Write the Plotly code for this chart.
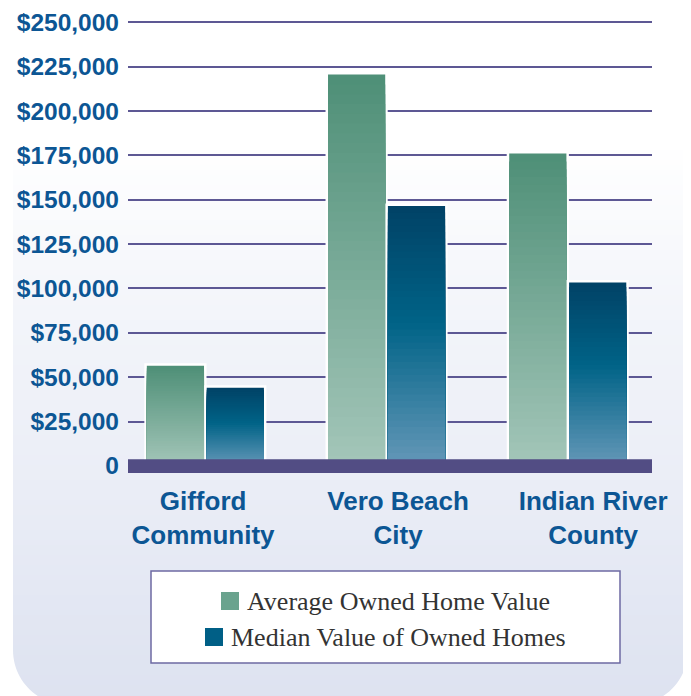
import plotly.graph_objects as go

# data
places = ["Gifford<br>Community", "Vero Beach<br>City", "Indian River<br>County"]
series = ["Average Owned Home Value", "Median Value of Owned Homes"]
avg_value = [56500, 220500, 176000]
median_value = [44000, 146400, 103400]
tick_vals = [0, 25000, 50000, 75000, 100000, 125000, 150000, 175000, 200000, 225000, 250000]
tick_text = ["0", "$25,000", "$50,000", "$75,000", "$100,000", "$125,000",
             "$150,000", "$175,000", "$200,000", "$225,000", "$250,000"]

# the page body adds 8px, so the figure is laid out in page pixels minus 8
OFF = 8
W, H = 691 - OFF, 696 - OFF
PL, PR, PT, PB = 128 - OFF, 652 - OFF, 18 - OFF, 473 - OFF
Y_MIN, Y_TOP = -4000, 252400


def px(x):
    # page pixel -> paper x
    return (x - OFF - PL) / (PR - PL)


def py(y):
    # page pixel -> paper y
    return (PB - (y - OFF)) / (PB - PT)


def mix(stops, f):
    for (p0, c0), (p1, c1) in zip(stops, stops[1:]):
        if p0 <= f <= p1:
            t = (f - p0) / (p1 - p0) if p1 > p0 else 0
            c = [round(a + (b - a) * t) for a, b in zip(c0, c1)]
            return "rgb(%d,%d,%d)" % tuple(c)
    return "rgb(%d,%d,%d)" % stops[-1][1]


avg_stops = [(0, (78, 143, 119)), (1, (164, 198, 185))]
med_stops = [(0, (1, 66, 102)), (0.45, (0, 99, 135)), (1, (101, 152, 184))]

fig = go.Figure()

N = 40
for name, vals, stops in [(series[0], avg_value, avg_stops), (series[1], median_value, med_stops)]:
    # white frame behind each bar
    fig.add_trace(go.Bar(x=places, y=vals, offsetgroup=name, name=name,
                         marker=dict(color="white", line=dict(color="white", width=5)),
                         showlegend=False, hoverinfo="skip"))
    # vertical gradient: tallest slice first, shorter slices drawn over it
    for k in range(N):
        frac = 1 - k / N
        fig.add_trace(go.Bar(x=places, y=[v * frac for v in vals], offsetgroup=name,
                             marker=dict(color=mix(stops, (k + 0.5) / N), line=dict(width=0)),
                             showlegend=False, hoverinfo="skip"))

# category labels sit on their own axis (spaced a little wider than the bars)
idx = list(range(len(places)))
fig.add_trace(go.Scatter(x=idx, y=[0] * len(idx), xaxis="x2", mode="markers",
                         marker=dict(opacity=0), showlegend=False, hoverinfo="skip"))

shapes = []
# background panel gradient
bg_stops = [(0, (255, 255, 255)), (0.3, (243, 245, 250)), (0.62, (234, 237, 246)), (1, (221, 226, 240))]
y_start, y_end = 140, 700
step = 5
y = y_start
while y < y_end:
    f = (y - y_start) / (y_end - y_start)
    shapes.append(dict(type="rect", xref="paper", yref="paper", layer="below",
                       x0=px(13), x1=px(688), y0=py(y + step + 0.5), y1=py(y),
                       fillcolor=mix(bg_stops, f), line=dict(width=0)))
    y += step

# rounded bottom corners (white masks)
R, k = 55, 0.5523
bot = 705


def P(x, y):
    return "%f,%f" % (px(x), py(y))


left = ("M " + P(13, bot - R) + " C " + P(13, bot - R + R * k) + " " + P(13 + R - R * k, bot) + " "
        + P(13 + R, bot) + " L " + P(13 + R, 720) + " L " + P(0, 720) + " L " + P(0, bot - R) + " Z")
right = ("M " + P(688, bot - R) + " C " + P(688, bot - R + R * k) + " " + P(688 - R + R * k, bot) + " "
         + P(688 - R, bot) + " L " + P(688 - R, 720) + " L " + P(700, 720) + " L " + P(700, bot - R) + " Z")
for pth in (left, right):
    shapes.append(dict(type="path", xref="paper", yref="paper", layer="below", path=pth,
                       fillcolor="white", line=dict(width=0)))

# thick baseline band
shapes.append(dict(type="rect", xref="paper", yref="y", layer="above", x0=0, x1=1, y0=Y_MIN, y1=3700,
                   fillcolor="#524d84", line=dict(width=0)))

# legend box
shapes.append(dict(type="rect", xref="paper", yref="paper", layer="above",
                   x0=px(151), x1=px(620), y0=py(663), y1=py(571),
                   fillcolor="white", line=dict(color="#6d69a3", width=1.5)))
swatches = [(221, 592, "#6aa38e"), (205, 628, "#005f86")]
for sx, sy, col in swatches:
    shapes.append(dict(type="rect", xref="paper", yref="paper", layer="above",
                       x0=px(sx), x1=px(sx + 18), y0=py(sy + 18), y1=py(sy),
                       fillcolor=col, line=dict(width=0)))

annotations = []
for (sx, sy, col), name in zip(swatches, series):
    annotations.append(dict(xref="paper", yref="paper", x=px(sx + 24), y=py(sy + 9),
                            xanchor="left", yanchor="middle", showarrow=False, text=name,
                            font=dict(family="Liberation Serif", size=26, color="#333333")))

fig.update_layout(
    width=W, height=H,
    margin=dict(l=PL, r=W - PR, t=PT, b=H - PB),
    paper_bgcolor="white", plot_bgcolor="rgba(0,0,0,0)",
    barmode="group", bargap=0.339, bargroupgap=0.045,
    showlegend=False,
    shapes=shapes, annotations=annotations,
    font=dict(family="Liberation Sans", color="#0c5694"),
    xaxis=dict(range=[-0.427, 2.465], showgrid=False, zeroline=False, showline=False,
               automargin=False, showticklabels=False, ticks=""),
    xaxis2=dict(overlaying="x", side="bottom", anchor="y", range=[-0.385, 2.302],
                tickvals=idx, ticktext=places, showgrid=False, zeroline=False, showline=False,
                automargin=False, ticks="", ticklabelstandoff=10,
                tickfont=dict(size=26, weight="bold", color="#0c5694")),
)
fig.update_yaxes(range=[Y_MIN, Y_TOP], tickvals=tick_vals, ticktext=tick_text, automargin=False,
                 showgrid=True, gridcolor="#5d5894", gridwidth=1.6, zeroline=False, showline=False,
                 tickfont=dict(size=24.5, weight="bold", color="#0c5694"), ticks="", ticklabelstandoff=8)

fig.write_html("out.html")
